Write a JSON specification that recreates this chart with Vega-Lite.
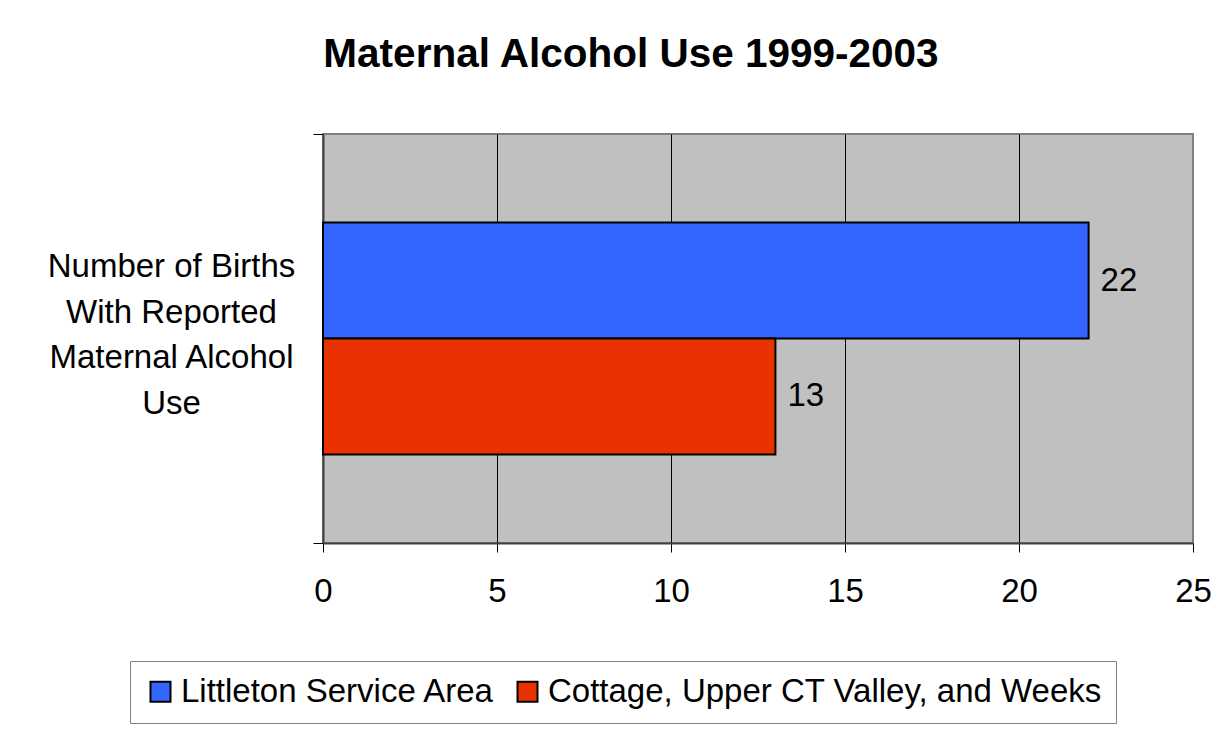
{
  "$schema": "https://vega.github.io/schema/vega-lite/v6.json",
  "width": 870,
  "height": 409,
  "autosize": {"type": "none"},
  "padding": {"left": 323, "top": 134, "right": 37, "bottom": 191},
  "background": "white",
  "config": {
    "font": "Liberation Sans",
    "view": {"fill": "#C0C0C0", "stroke": "#808080", "strokeWidth": 2}
  },
  "title": {
    "text": "Maternal Alcohol Use 1999-2003",
    "fontSize": 40.5,
    "fontWeight": "bold",
    "font": "Liberation Sans",
    "color": "black",
    "anchor": "middle",
    "frame": "group",
    "dx": -127,
    "offset": 43
  },
  "data": {
    "values": [
      {"measure": "Number of Births\nWith Reported\nMaternal Alcohol\nUse", "area": "Littleton Service Area", "births": 22},
      {"measure": "Number of Births\nWith Reported\nMaternal Alcohol\nUse", "area": "Cottage, Upper CT Valley, and Weeks", "births": 13}
    ]
  },
  "encoding": {
    "y": {
      "field": "measure",
      "type": "nominal",
      "scale": {"paddingInner": 0, "paddingOuter": 0},
      "axis": {
        "title": null,
        "labelExpr": "split(datum.label, '\\n')",
        "labelAlign": "center",
        "labelBaseline": "middle",
        "labelPadding": 142,
        "labelOffset": -72,
        "labelFontSize": 33,
        "labelLineHeight": 45.5,
        "labelLimit": 0,
        "labelColor": "black",
        "tickBand": "extent",
        "tickSize": 10,
        "tickColor": "black",
        "tickWidth": 1,
        "domainColor": "#404040",
        "domainWidth": 2,
        "grid": false
      }
    },
    "yOffset": {
      "field": "area",
      "type": "nominal",
      "sort": ["Littleton Service Area", "Cottage, Upper CT Valley, and Weeks"],
      "scale": {"paddingInner": 0, "paddingOuter": 0.763}
    },
    "x": {
      "field": "births",
      "type": "quantitative",
      "scale": {"domain": [0, 25], "nice": false},
      "axis": {
        "title": null,
        "values": [0, 5, 10, 15, 20, 25],
        "labelFontSize": 33,
        "labelColor": "black",
        "labelPadding": 23,
        "labelFlush": false,
        "tickSize": 9,
        "tickColor": "black",
        "tickWidth": 1,
        "domainColor": "#404040",
        "domainWidth": 2,
        "grid": true,
        "gridColor": {"condition": {"test": "datum.value === 0 || datum.value === 25", "value": "transparent"}, "value": "black"},
        "gridOpacity": 1,
        "gridWidth": 1
      }
    }
  },
  "layer": [
    {
      "mark": {"type": "bar", "stroke": "black", "strokeWidth": 2, "opacity": 1},
      "encoding": {
        "color": {
          "field": "area",
          "type": "nominal",
          "scale": {"domain": ["Littleton Service Area", "Cottage, Upper CT Valley, and Weeks"], "range": ["#3366FF", "#E83200"]},
          "legend": {
            "title": null,
            "orient": "none",
            "legendX": -193,
            "legendY": 527,
            "direction": "horizontal",
            "symbolType": "square",
            "symbolSize": 400,
            "symbolStrokeColor": "black",
            "symbolStrokeWidth": 2,
            "symbolOpacity": 1,
            "labelFontSize": 33,
            "labelColor": "black",
            "labelOffset": 4,
            "labelLimit": 0,
            "columnPadding": 16,
            "padding": 14,
            "strokeColor": "#808080",
            "fillColor": "white"
          }
        }
      }
    },
    {
      "mark": {"type": "text", "align": "left", "baseline": "middle", "dx": 12, "fontSize": 33, "color": "black"},
      "encoding": {"text": {"field": "births", "type": "quantitative"}}
    }
  ]
}
